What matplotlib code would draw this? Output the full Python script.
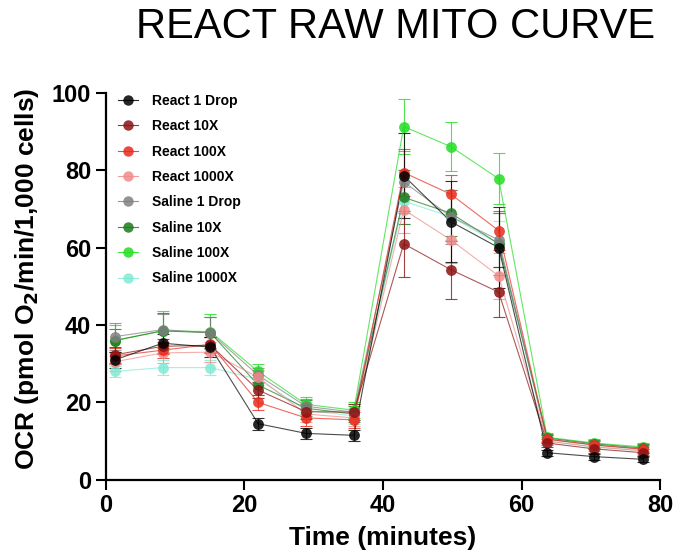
import matplotlib
matplotlib.use("Agg")
import matplotlib.pyplot as plt

plt.rcParams['font.family'] = ['Liberation Sans', 'DejaVu Sans']
plt.rcParams['mathtext.default'] = 'bf'

# Measurement times (minutes)
time_min = [1.3, 8.2, 15.1, 22.0, 28.9, 35.8, 43.0, 49.8, 56.7, 63.7, 70.5, 77.5]

series_names = ["React 1 Drop", "React 10X", "React 100X", "React 1000X",
                "Saline 1 Drop", "Saline 10X", "Saline 100X", "Saline 1000X"]

react_1drop = [31.0, 35.3, 34.3, 14.5, 12.0, 11.5, 78.6, 66.7, 60.0, 7.0, 6.0, 5.3]
react_10x = [32.3, 34.5, 34.8, 23.2, 17.6, 17.5, 61.0, 54.3, 48.5, 9.5, 8.0, 7.0]
react_100x = [32.0, 33.5, 35.0, 20.0, 16.0, 15.5, 79.4, 73.8, 64.4, 10.5, 9.0, 7.9]
react_1000x = [30.5, 32.8, 33.0, 26.5, 17.0, 16.0, 69.8, 62.0, 52.7, 10.0, 8.5, 7.5]
saline_1drop = [37.0, 38.8, 38.0, 27.0, 19.0, 17.5, 77.0, 68.0, 62.0, 10.5, 9.0, 8.0]
saline_10x = [36.0, 38.5, 38.0, 24.5, 18.5, 17.0, 73.0, 68.9, 61.0, 10.8, 9.3, 8.2]
saline_100x = [36.0, 38.5, 38.3, 28.0, 19.5, 18.0, 91.3, 86.1, 77.8, 11.0, 9.5, 8.5]
saline_1000x = [28.0, 29.0, 29.0, 26.0, 18.0, 16.5, 72.0, 68.0, 61.0, 10.0, 8.5, 7.5]

react_1drop_err = [2.0, 2.5, 2.5, 1.5, 1.5, 1.5, 11.0, 10.5, 10.5, 0.8, 0.8, 0.8]
react_10x_err = [2.0, 2.0, 2.0, 2.0, 2.0, 2.0, 8.5, 7.5, 6.5, 1.0, 1.0, 1.0]
react_100x_err = [2.0, 2.0, 2.0, 2.0, 2.0, 2.0, 6.0, 5.0, 5.0, 1.0, 1.0, 1.0]
react_1000x_err = [2.5, 2.5, 2.5, 2.0, 2.0, 2.0, 6.0, 6.0, 6.0, 1.0, 1.0, 1.0]
saline_1drop_err = [3.5, 4.0, 4.0, 2.0, 2.0, 2.0, 8.0, 7.0, 7.0, 1.0, 1.0, 1.0]
saline_10x_err = [3.0, 4.5, 4.0, 2.5, 2.0, 2.0, 7.0, 6.0, 8.0, 1.0, 1.0, 1.0]
saline_100x_err = [4.0, 5.0, 4.5, 2.0, 2.0, 2.0, 7.0, 6.3, 6.6, 1.0, 1.0, 1.0]
saline_1000x_err = [1.5, 2.0, 2.0, 2.0, 2.0, 2.0, 6.0, 6.0, 6.0, 1.0, 1.0, 1.0]

series_values = [react_1drop, react_10x, react_100x, react_1000x,
                 saline_1drop, saline_10x, saline_100x, saline_1000x]
series_errors = [react_1drop_err, react_10x_err, react_100x_err, react_1000x_err,
                 saline_1drop_err, saline_10x_err, saline_100x_err, saline_1000x_err]
series_colors = ["#000000", "#8B1212", "#E82A1A", "#F08A8A",
                 "#808080", "#1C7A1C", "#22DD22", "#80EAD4"]

x_ticks = [0, 20, 40, 60, 80]
y_ticks = [0, 20, 40, 60, 80, 100]

fig = plt.figure(figsize=(6.82, 5.56), dpi=100)
ax = fig.add_axes([0.155, 0.137, 0.813, 0.696])

# draw in reverse so React 1 Drop ends on top
for i in list(range(len(series_names)))[::-1]:
    color = series_colors[i]
    ax.errorbar(time_min, series_values[i], yerr=series_errors[i],
                fmt='none', ecolor=color, elinewidth=0.8, capsize=4.5,
                capthick=0.8, alpha=0.8, zorder=2)
    ax.plot(time_min, series_values[i], '-', color=color, lw=0.8,
            alpha=0.7, zorder=3)
    ax.plot(time_min, series_values[i], 'o', color=color, ms=7.8,
            alpha=0.85, mec='none', zorder=4)

# legend proxies with line and marker
proxies = []
for i in range(len(series_names)):
    lh, = ax.plot([], [], '-o', color=series_colors[i], lw=0.8, ms=7.5,
                  mec='none', alpha=0.85)
    proxies.append(lh)
ax.legend(proxies, series_names, loc='upper left',
          bbox_to_anchor=(0.0, 1.03), frameon=False,
          prop={'weight': 'bold', 'size': 10}, handlelength=1.4,
          labelspacing=0.82, handletextpad=1.0, borderaxespad=0.5)

ax.set_xlim(0, 80)
ax.set_ylim(0, 100)
ax.set_xticks(x_ticks)
ax.set_yticks(y_ticks)
for lab in ax.get_xticklabels() + ax.get_yticklabels():
    lab.set_fontweight('bold')
    lab.set_fontsize(17)
ax.tick_params(axis='both', width=1.5, length=7, direction='out')
ax.spines['top'].set_visible(False)
ax.spines['right'].set_visible(False)
ax.spines['left'].set_linewidth(1.6)
ax.spines['bottom'].set_linewidth(1.6)

ax.set_xlabel("Time (minutes)", fontsize=19, fontweight='bold', labelpad=6)
ax.set_ylabel("OCR (pmol O$_\\mathbf{2}$/min/1,000 cells)", fontsize=19,
              fontweight='bold')
ax.yaxis.set_label_coords(-0.116, 0.52)

fig.text(0.580, 0.952, "REACT RAW MITO CURVE", fontsize=30,
         ha='center', va='center')

fig.savefig("out.png", dpi=100)
